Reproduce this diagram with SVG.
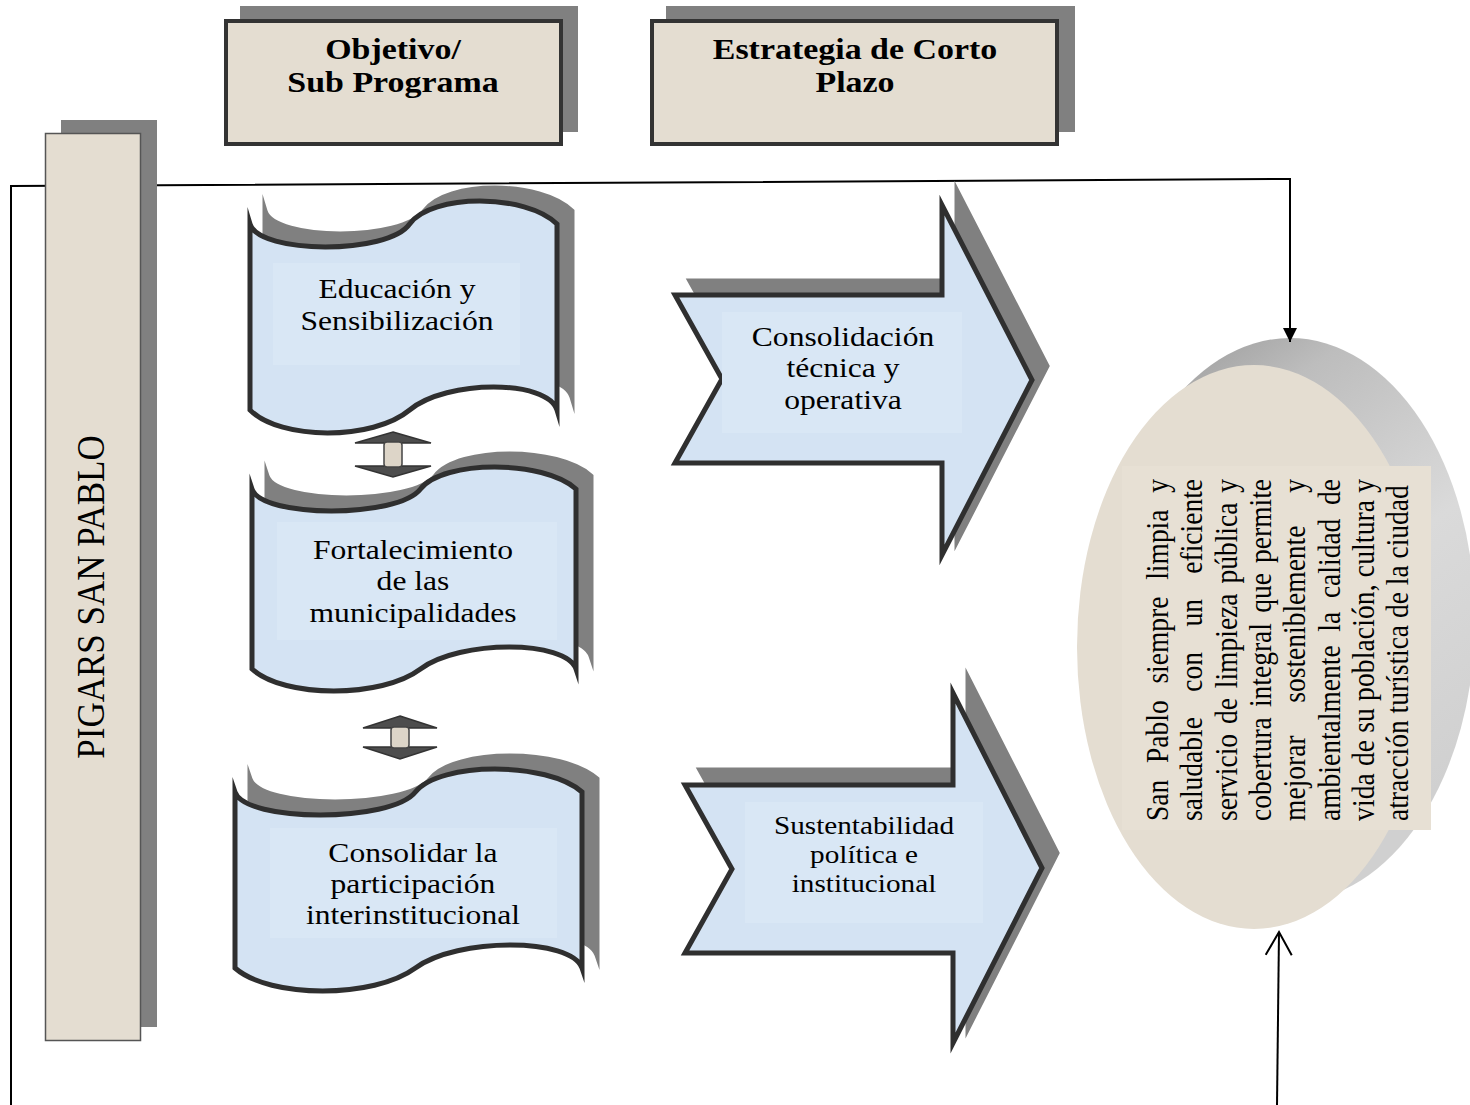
<svg xmlns="http://www.w3.org/2000/svg" width="1470" height="1105" viewBox="0 0 1470 1105">
<style>
.sh{fill:#808080;stroke:#808080;stroke-width:5;stroke-miterlimit:10}
.blue{fill:#d4e3f3;stroke:#2f2f2f;stroke-width:5;stroke-miterlimit:10}
.beige{fill:#e4ddd1}
.hdr{fill:#e4ddd1;stroke:#333;stroke-width:4}
.tb{fill:#d9e7f5}
.t{font-family:"Liberation Serif","Times New Roman",serif;fill:#000}
.hb{font-size:29px;font-weight:bold;text-anchor:middle}
.m27{font-size:27px;text-anchor:middle}
.m25{font-size:25px;text-anchor:middle}
.vis{font-size:27.5px}
.conn{fill:none;stroke:#000;stroke-width:2}
.dh{fill:#4d4d4d;stroke:#333;stroke-width:1.5}
.ds{fill:#ddd5c8;stroke:#444;stroke-width:1.5}
</style>
<defs>
<linearGradient id="shg" x1="0" y1="0" x2="0.45" y2="1">
<stop offset="0" stop-color="#8e8e8e"/>
<stop offset="0.25" stop-color="#bdbdbd"/>
<stop offset="0.6" stop-color="#dadada"/>
<stop offset="1" stop-color="#d0d0d0"/>
</linearGradient>
<marker id="mFill" markerUnits="userSpaceOnUse" markerWidth="16" markerHeight="16" refX="14" refY="7" orient="auto">
<path d="M0,0 L14,7 L0,14 Z" fill="#000"/>
</marker>
<marker id="mOpen" markerUnits="userSpaceOnUse" markerWidth="30" markerHeight="30" refX="24" refY="14" orient="auto">
<path d="M1,1 L24,14 L1,27" fill="none" stroke="#000" stroke-width="2"/>
</marker>
</defs>
<rect width="1470" height="1105" fill="#fff"/>

<g id="hdr-objetivo">
<rect x="240" y="6" width="338" height="126" fill="#808080"/>
<rect class="hdr" x="226" y="21" width="335" height="123"/>
<g transform="translate(393,0) scale(1.17,1)">
<text class="t hb" x="0" y="59">Objetivo/</text>
<text class="t hb" x="0" y="92">Sub Programa</text>
</g>
</g>

<g id="hdr-estrategia">
<rect x="666" y="6" width="409" height="126" fill="#808080"/>
<rect class="hdr" x="652" y="21" width="405" height="123"/>
<g transform="translate(855,0) scale(1.17,1)">
<text class="t hb" x="0" y="59">Estrategia de Corto</text>
<text class="t hb" x="0" y="92">Plazo</text>
</g>
</g>

<g id="vision">
<ellipse cx="1290" cy="620" rx="185" ry="282" fill="url(#shg)"/>
<ellipse class="beige" cx="1254" cy="647" rx="177" ry="282"/>
<rect x="1122" y="466" width="309" height="364" fill="#e7e0d4"/>
<text class="t vis" transform="translate(1168,821) scale(1.17,1) rotate(-90)" style="word-spacing:9.9px" textLength="342" lengthAdjust="spacing">San Pablo siempre limpia y</text>
<text class="t vis" transform="translate(1202,821) scale(1.17,1) rotate(-90)" style="word-spacing:18.5px" textLength="342" lengthAdjust="spacing">saludable con un eficiente</text>
<text class="t vis" transform="translate(1237,821) scale(1.17,1) rotate(-90)" style="word-spacing:3px" textLength="342" lengthAdjust="spacing">servicio de limpieza pública y</text>
<text class="t vis" transform="translate(1271,821) scale(1.17,1) rotate(-90)" style="word-spacing:3.3px" textLength="342" lengthAdjust="spacing">cobertura integral que permite</text>
<text class="t vis" transform="translate(1305,821) scale(1.17,1) rotate(-90)" style="word-spacing:25.9px" textLength="342" lengthAdjust="spacing">mejorar sosteniblemente y</text>
<text class="t vis" transform="translate(1340,821) scale(1.17,1) rotate(-90)" style="word-spacing:6.8px" textLength="342" lengthAdjust="spacing">ambientalmente la calidad de</text>
<text class="t vis" transform="translate(1374,821) scale(1.17,1) rotate(-90)" textLength="342" lengthAdjust="spacing">vida de su población, cultura y</text>
<text class="t vis" transform="translate(1408,821) scale(1.17,1) rotate(-90)">atracción turística de la ciudad</text>
</g>

<g id="connectors">
<polyline class="conn" points="11,1105 11,186 1290,179 1290,342" marker-end="url(#mFill)"/>
<line class="conn" x1="1277" y1="1105" x2="1279" y2="932" marker-end="url(#mOpen)"/>
</g>

<g id="pigars">
<rect x="61" y="120" width="96" height="907" fill="#808080"/>
<rect class="beige" x="45.5" y="133.5" width="95" height="907" stroke="#555" stroke-width="1.5"/>
<text class="t" transform="translate(104,597) scale(1.17,1) rotate(-90)" style="font-size:35px;text-anchor:middle">PIGARS SAN PABLO</text>
</g>

<g id="educacion">
<path class="sh" transform="translate(15,-13)" d="M250,224 C259.2,254.6 388.2,254.6 409.6,224 C431.1,193.4 526.3,193.4 557,224 L557,410 C547.8,379.4 446.5,379.4 409.6,410 C372.8,440.6 280.7,440.6 250,410 Z"/>
<path class="blue" d="M250,224 C259.2,254.6 388.2,254.6 409.6,224 C431.1,193.4 526.3,193.4 557,224 L557,410 C547.8,379.4 446.5,379.4 409.6,410 C372.8,440.6 280.7,440.6 250,410 Z"/>
<rect class="tb" x="273" y="263" width="247" height="102"/>
<g transform="translate(397,0) scale(1.17,1)">
<text class="t m27" x="0" y="298">Educación y</text>
<text class="t m27" x="0" y="330">Sensibilización</text>
</g>
</g>

<g id="fortalecimiento">
<path class="sh" transform="translate(15,-13)" d="M252,489 C261.7,518.3 397.8,518.3 420.5,489 C443.2,459.7 543.6,459.7 576,489 L576,669 C566.3,639.7 459.4,639.7 420.5,669 C381.6,698.3 284.4,698.3 252,669 Z"/>
<path class="blue" d="M252,489 C261.7,518.3 397.8,518.3 420.5,489 C443.2,459.7 543.6,459.7 576,489 L576,669 C566.3,639.7 459.4,639.7 420.5,669 C381.6,698.3 284.4,698.3 252,669 Z"/>
<rect class="tb" x="277" y="522" width="280" height="118"/>
<g transform="translate(413,0) scale(1.17,1)">
<text class="t m27" x="0" y="559">Fortalecimiento</text>
<text class="t m27" x="0" y="590">de las</text>
<text class="t m27" x="0" y="622">municipalidades</text>
</g>
</g>

<g id="consolidar">
<path class="sh" transform="translate(15,-13)" d="M235,792 C245.4,822.6 391.2,822.6 415.4,792 C439.7,761.4 547.3,761.4 582,792 L582,968 C571.6,937.4 457.1,937.4 415.4,968 C373.8,998.6 269.7,998.6 235,968 Z"/>
<path class="blue" d="M235,792 C245.4,822.6 391.2,822.6 415.4,792 C439.7,761.4 547.3,761.4 582,792 L582,968 C571.6,937.4 457.1,937.4 415.4,968 C373.8,998.6 269.7,998.6 235,968 Z"/>
<rect class="tb" x="270" y="828" width="287" height="110"/>
<g transform="translate(413,0) scale(1.17,1)">
<text class="t m27" x="0" y="862">Consolidar la</text>
<text class="t m27" x="0" y="893">participación</text>
<text class="t m27" x="0" y="924">interinstitucional</text>
</g>
</g>

<g id="dbl-arrow-1">
<path class="dh" d="M393,432 L431,443 L355,443 Z M355,466 L431,466 L393,477 Z"/>
<rect class="ds" x="384" y="442" width="18" height="25" rx="3"/>
</g>

<g id="dbl-arrow-2">
<path class="dh" d="M400,716 L437,728 L363,728 Z M363,747 L437,747 L400,759 Z"/>
<rect class="ds" x="391" y="727" width="18" height="21" rx="3"/>
</g>

<g id="consolidacion-tecnica">
<path class="sh" transform="translate(15,-14)" d="M675,295 L942,295 L942,205 L1032,380 L942,555 L942,463 L675,463 L722,379 Z"/>
<path class="blue" d="M675,295 L942,295 L942,205 L1032,380 L942,555 L942,463 L675,463 L722,379 Z"/>
<rect class="tb" x="722" y="312" width="240" height="121"/>
<g transform="translate(843,0) scale(1.17,1)">
<text class="t m27" x="0" y="346">Consolidación</text>
<text class="t m27" x="0" y="377">técnica y</text>
<text class="t m27" x="0" y="409">operativa</text>
</g>
</g>

<g id="sustentabilidad">
<path class="sh" transform="translate(15,-15)" d="M685,785 L953,785 L953,693 L1042,868 L953,1043 L953,953 L685,953 L732,869 Z"/>
<path class="blue" d="M685,785 L953,785 L953,693 L1042,868 L953,1043 L953,953 L685,953 L732,869 Z"/>
<rect class="tb" x="745" y="802" width="238" height="121"/>
<g transform="translate(864,0) scale(1.17,1)">
<text class="t m25" x="0" y="834">Sustentabilidad</text>
<text class="t m25" x="0" y="863">política e</text>
<text class="t m25" x="0" y="892">institucional</text>
</g>
</g>
</svg>
